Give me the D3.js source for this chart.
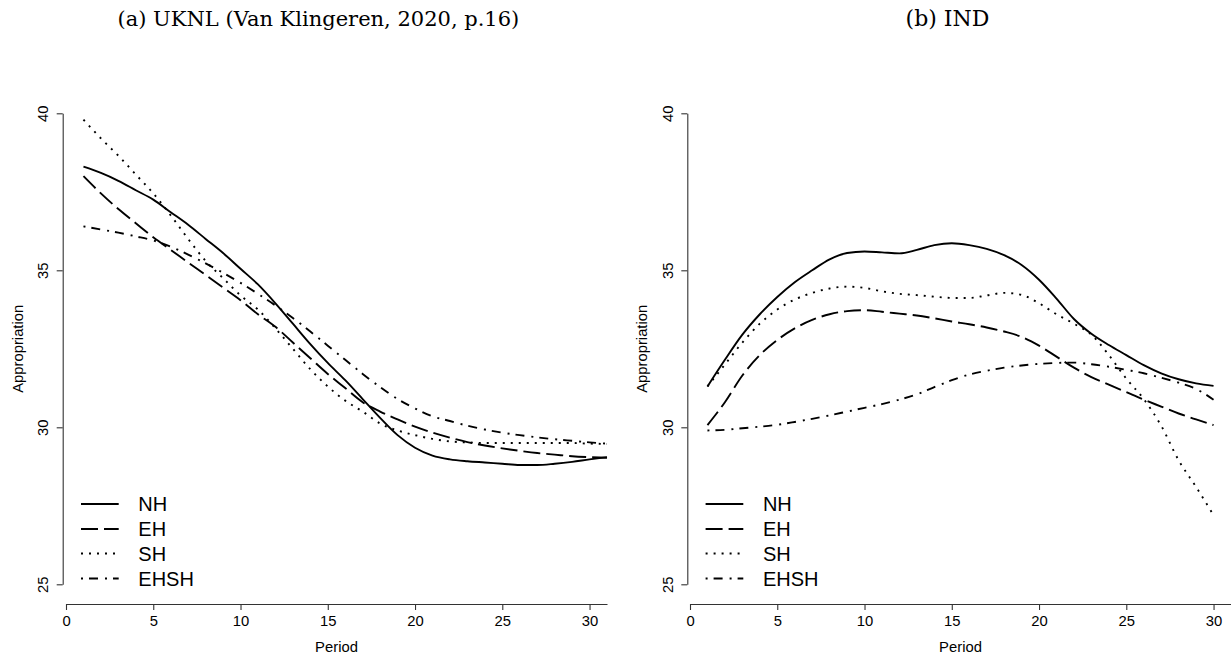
<!DOCTYPE html>
<html>
<head>
<meta charset="utf-8">
<script src="https://cdn.jsdelivr.net/npm/d3@7"></script>
<style>
  html, body { margin: 0; padding: 0; background: #fff; }
  svg { display: block; }
</style>
</head>
<body>
<svg id="chart" width="1231" height="656"></svg>
<script>
// ---- data -------------------------------------------------------------
const seriesNames = ["NH", "EH", "SH", "EHSH"];

// Panel (a): UKNL, periods 1..31
const periodsUKNL = [1, 2, 3, 4, 5, 6, 7, 8, 9, 10, 11, 12, 13, 14, 15, 16,
                     17, 18, 19, 20, 21, 22, 23, 24, 25, 26, 27, 28, 29, 30, 31];
const uknlNH   = [38.30, 38.10, 37.85, 37.55, 37.25, 36.85, 36.45, 36.00, 35.55, 35.05,
                  34.55, 33.95, 33.30, 32.65, 32.05, 31.50, 30.90, 30.30, 29.75, 29.35,
                  29.10, 28.98, 28.92, 28.88, 28.84, 28.80, 28.80, 28.84, 28.90, 28.98, 29.05];
const uknlEH   = [38.00, 37.45, 36.95, 36.50, 36.05, 35.65, 35.25, 34.85, 34.45, 34.05,
                  33.60, 33.20, 32.70, 32.20, 31.70, 31.25, 30.80, 30.50, 30.25, 30.02,
                  29.83, 29.67, 29.53, 29.42, 29.33, 29.25, 29.18, 29.13, 29.08, 29.05, 29.03];
const uknlSH   = [39.80, 39.20, 38.65, 38.05, 37.45, 36.75, 36.00, 35.30, 34.75, 34.20,
                  33.75, 33.15, 32.50, 31.85, 31.30, 30.85, 30.50, 30.12, 29.90, 29.75,
                  29.63, 29.55, 29.52, 29.50, 29.50, 29.50, 29.50, 29.50, 29.50, 29.48, 29.47];
const uknlEHSH = [36.40, 36.30, 36.20, 36.08, 35.95, 35.75, 35.50, 35.22, 34.92, 34.60,
                  34.25, 33.88, 33.48, 33.05, 32.60, 32.15, 31.70, 31.28, 30.90, 30.60,
                  30.35, 30.20, 30.05, 29.93, 29.83, 29.75, 29.68, 29.62, 29.57, 29.52, 29.48];

// Panel (b): IND, periods 1..30
const periodsIND = [1, 2, 3, 4, 5, 6, 7, 8, 9, 10, 11, 12, 13, 14, 15, 16,
                    17, 18, 19, 20, 21, 22, 23, 24, 25, 26, 27, 28, 29, 30];
const indNH   = [31.30, 32.15, 32.95, 33.60, 34.15, 34.62, 35.00, 35.35, 35.55, 35.60,
                 35.57, 35.54, 35.65, 35.80, 35.86, 35.80, 35.68, 35.48, 35.17, 34.70,
                 34.10, 33.45, 32.98, 32.62, 32.30, 31.98, 31.72, 31.53, 31.40, 31.32];
const indEH   = [30.07, 30.80, 31.65, 32.30, 32.78, 33.15, 33.42, 33.60, 33.70, 33.73,
                 33.68, 33.62, 33.56, 33.47, 33.37, 33.28, 33.18, 33.05, 32.88, 32.60,
                 32.25, 31.90, 31.60, 31.36, 31.12, 30.88, 30.66, 30.44, 30.25, 30.07];
const indSH   = [31.30, 32.00, 32.70, 33.30, 33.75, 34.07, 34.28, 34.42, 34.48, 34.44,
                 34.33, 34.25, 34.21, 34.16, 34.12, 34.12, 34.20, 34.28, 34.22, 33.95,
                 33.60, 33.30, 32.95, 32.30, 31.55, 30.90, 30.05, 28.95, 28.10, 27.20];
const indEHSH = [29.90, 29.92, 29.97, 30.02, 30.08, 30.17, 30.27, 30.38, 30.50, 30.62,
                 30.74, 30.88, 31.05, 31.28, 31.50, 31.68, 31.80, 31.90, 31.97, 32.02,
                 32.05, 32.06, 32.01, 31.93, 31.83, 31.72, 31.58, 31.42, 31.22, 30.88];

const xTicks = [0, 5, 10, 15, 20, 25, 30];
const yTicks = [25, 30, 35, 40];
const xLabel = "Period";
const yLabel = "Appropriation";
const panelTitles = ["(a) UKNL (Van Klingeren, 2020, p.16)", "(b) IND"];

// ---- styling -----------------------------------------------------------
const dashBySeries = { NH: null, EH: "17,6", SH: "2,6", EHSH: "2,6,9,7" };
const sans = "'Liberation Sans', Arial, Helvetica, sans-serif";
const serif = "'DejaVu Serif', serif";
const axisFont = 14.8;
const legendFont = 20;

const svg = d3.select("#chart");

const panels = [
  { title: panelTitles[0], titleX: 318.4, titleSize: 21,
    axisX: 62.7, xRange: [66, 607],
    periods: periodsUKNL, values: [uknlNH, uknlEH, uknlSH, uknlEHSH] },
  { title: panelTitles[1], titleX: 947.5, titleSize: 22,
    axisX: 687.3, xRange: [690, 1231],
    periods: periodsIND, values: [indNH, indEH, indSH, indEHSH] }
];

const yRange = [584.3, 113.3];
const xAxisY = 604;
const legendRows = [504, 529, 553.5, 578.5];

function drawPanel(p) {
  const g = svg.append("g");
  const x = d3.scaleLinear().domain([0, 31]).range(p.xRange);
  const y = d3.scaleLinear().domain([25, 40]).range(yRange);

  // title
  g.append("text")
    .attr("x", p.titleX).attr("y", 26)
    .attr("text-anchor", "middle")
    .attr("font-family", serif)
    .attr("font-size", p.titleSize)
    .attr("fill", "#000")
    .text(p.title);

  // x axis
  const xa = g.append("g")
    .attr("transform", `translate(0,${xAxisY})`)
    .call(d3.axisBottom(x).tickValues(xTicks).tickSize(6).tickSizeOuter(0)
      .tickFormat(d3.format("d")));
  xa.attr("font-family", sans).attr("font-size", axisFont);
  xa.select(".domain").attr("stroke", "#333").attr("stroke-width", 1.1);
  xa.selectAll(".tick line").attr("stroke", "#333").attr("stroke-width", 1.1);
  xa.selectAll(".tick text").attr("y", 22).attr("dy", null).attr("fill", "#000");

  // y axis, labels parallel to the axis
  const ya = g.append("g")
    .attr("transform", `translate(${p.axisX},0)`)
    .call(d3.axisLeft(y).tickValues(yTicks).tickSize(6).tickSizeOuter(0)
      .tickFormat(d3.format("d")));
  ya.attr("font-family", sans).attr("font-size", axisFont);
  ya.select(".domain").attr("stroke", "#333").attr("stroke-width", 1.1);
  ya.selectAll(".tick line").attr("stroke", "#333").attr("stroke-width", 1.1);
  ya.selectAll(".tick text")
    .attr("x", 0).attr("y", 0).attr("dy", null)
    .attr("text-anchor", "middle")
    .attr("transform", "translate(-14.4,0) rotate(-90)")
    .attr("fill", "#000");

  // axis titles
  g.append("text")
    .attr("x", (p.xRange[0] + p.xRange[1]) / 2).attr("y", 651.5)
    .attr("text-anchor", "middle")
    .attr("font-family", sans).attr("font-size", axisFont)
    .text(xLabel);
  g.append("text")
    .attr("transform", `translate(${p.axisX - 40},${(yRange[0] + yRange[1]) / 2}) rotate(-90)`)
    .attr("text-anchor", "middle")
    .attr("font-family", sans).attr("font-size", axisFont)
    .text(yLabel);

  // series lines
  const line = d3.line()
    .x(d => x(d[0]))
    .y(d => y(d[1]))
    .curve(d3.curveMonotoneX);

  seriesNames.forEach((name, i) => {
    const pts = p.periods.map((t, k) => [t, p.values[i][k]]);
    g.append("path")
      .datum(pts)
      .attr("d", line)
      .attr("fill", "none")
      .attr("stroke", "#000")
      .attr("stroke-width", 1.9)
      .attr("stroke-dasharray", dashBySeries[name]);
  });

  // legend
  const lg = g.append("g");
  seriesNames.forEach((name, i) => {
    const ry = legendRows[i];
    lg.append("line")
      .attr("x1", p.axisX + 18.3).attr("x2", p.axisX + 56)
      .attr("y1", ry).attr("y2", ry)
      .attr("stroke", "#000").attr("stroke-width", 1.9)
      .attr("stroke-dasharray", dashBySeries[name]);
    lg.append("text")
      .attr("x", p.axisX + 75.6).attr("y", ry)
      .attr("dy", "0.36em")
      .attr("font-family", sans).attr("font-size", legendFont)
      .text(name);
  });
}

panels.forEach(drawPanel);
</script>
</body>
</html>
